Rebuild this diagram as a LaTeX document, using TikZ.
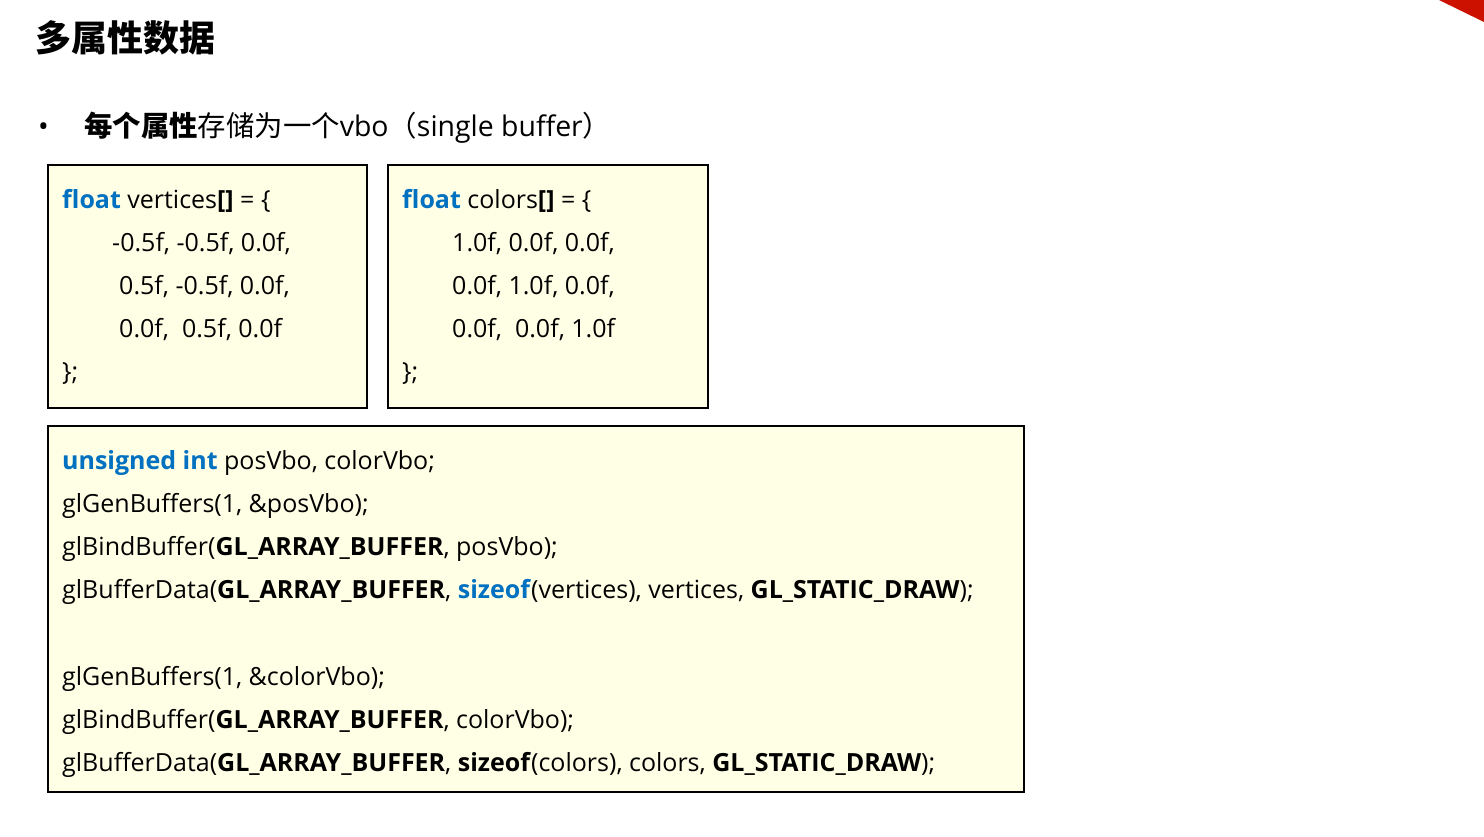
\documentclass[tikz,border=0pt]{standalone}
\usepackage{fontspec}
\setmainfont{Open Sans}
\newfontfamily\cjk{Noto Sans CJK SC}
\definecolor{kw}{RGB}{0,112,192}
\definecolor{boxfill}{RGB}{255,255,230}
\definecolor{corner}{RGB}{204,17,0}
\newcommand{\kwd}[1]{\textcolor{kw}{\textbf{#1}}}
\begin{document}
\begin{tikzpicture}[x=1pt,y=-1pt,
  codebox/.style={draw=black, line width=1.8pt, fill=boxfill, inner sep=0pt, outer sep=0pt, anchor=north west},
  code/.style={anchor=base west, inner sep=0pt, font=\fontsize{25}{30}\selectfont},
  titletext/.style={anchor=base west, inner sep=0pt, font=\fontsize{36}{42}\selectfont\cjk\bfseries},
  bullettext/.style={anchor=base west, inner sep=0pt, font=\fontsize{28.4}{34}\selectfont}]
\useasboundingbox (0,0) rectangle (1484,836);
\fill[white] (0,0) rectangle (1484,836);
\fill[corner] (1439,0) -- (1484,0) -- (1484,22) -- cycle;

\node[titletext] (title) at (35,51) {多属性数据};
\node[bullettext] (bullet) at (38,136) {•};
\node[bullettext] (point) at (84,136) {{\cjk\bfseries 每个属性}{\cjk 存储为一个}vbo{\cjk （}single buffer{\cjk ）}};

\node[codebox, minimum width=319pt, minimum height=243pt] (b1) at (48,165) {};
\node[codebox, minimum width=320pt, minimum height=243pt] (b2) at (388,165) {};
\node[codebox, minimum width=976pt, minimum height=366pt] (b3) at (48,426) {};

\node[code] (v0) at (62,208) {\kwd{float} vertices\textbf{[]} = \{};
\node[code] (v1) at (112,251) {-0.5f, -0.5f, 0.0f,};
\node[code] (v2) at (119,294) {0.5f, -0.5f, 0.0f,};
\node[code] (v3) at (119,337) {0.0f,\ \ 0.5f, 0.0f};
\node[code] (v4) at (62,380) {\};};

\node[code] (c0) at (402,208) {\kwd{float} colors\textbf{[]} = \{};
\node[code] (c1) at (452,251) {1.0f, 0.0f, 0.0f,};
\node[code] (c2) at (452,294) {0.0f, 1.0f, 0.0f,};
\node[code] (c3) at (452,337) {0.0f,\ \ 0.0f, 1.0f};
\node[code] (c4) at (402,380) {\};};

\node[code] (l1) at (62,469) {\kwd{unsigned int} posVbo, colorVbo;};
\node[code] (l2) at (62,512) {glGenBuffers(1, \&posVbo);};
\node[code] (l3) at (62,555) {glBindBuffer(\textbf{GL\_ARRAY\_BUFFER}, posVbo);};
\node[code] (l4) at (62,598) {glBufferData(\textbf{GL\_ARRAY\_BUFFER}, \kwd{sizeof}(vertices), vertices, \textbf{GL\_STATIC\_DRAW});};
\node[code] (l5) at (62,685) {glGenBuffers(1, \&colorVbo);};
\node[code] (l6) at (62,728) {glBindBuffer(\textbf{GL\_ARRAY\_BUFFER}, colorVbo);};
\node[code] (l7) at (62,771) {glBufferData(\textbf{GL\_ARRAY\_BUFFER}, \textbf{sizeof}(colors), colors, \textbf{GL\_STATIC\_DRAW});};
\end{tikzpicture}
\end{document}
